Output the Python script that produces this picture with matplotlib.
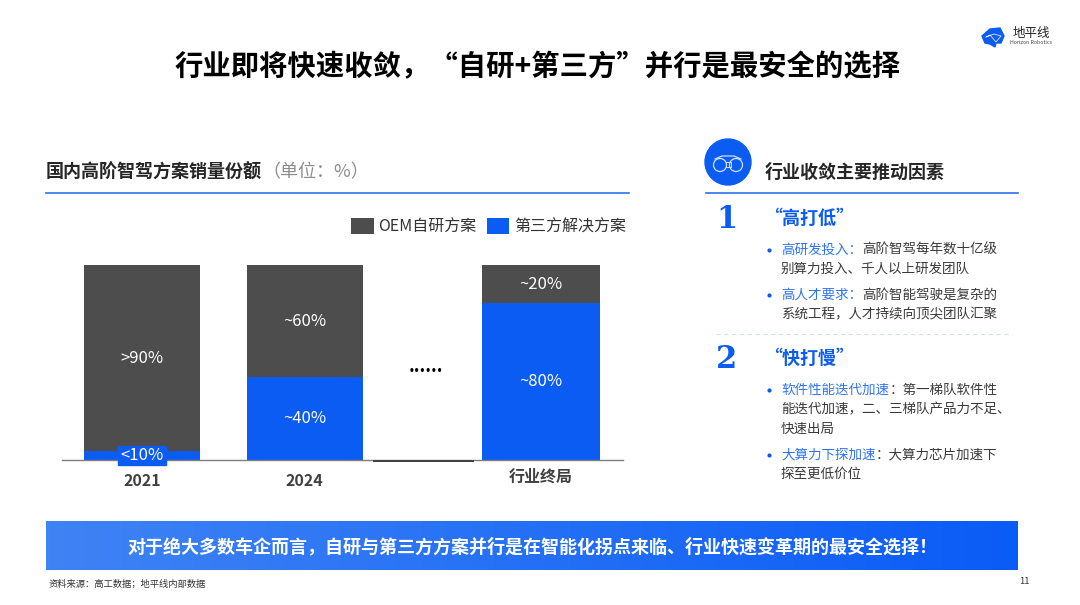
import numpy as np
import matplotlib
matplotlib.use("Agg")
import matplotlib.pyplot as plt
from matplotlib.patches import Circle, Polygon, Rectangle

plt.rcParams['font.family'] = ['Noto Sans CJK SC', 'DejaVu Sans']

# data
categories = ['2021', '2024', '行业终局']
third_party = [4.6, 42.5, 80.5]
oem = [95.4, 57.5, 19.5]
oem_labels = ['>90%', '~60%', '~20%']
third_labels = ['<10%', '~40%', '~80%']
series_names = ['OEM自研方案', '第三方解决方案']

GRAY = '#4d4d4d'
BLUE = '#0a5cf2'
TEXT = '#262626'

W, H = 1080, 605
fig = plt.figure(figsize=(W / 100, H / 100), dpi=100, facecolor='white')

# overlay in pixel coordinates for the slide furniture
bg = fig.add_axes([0, 0, 1, 1])
bg.set_xlim(0, W)
bg.set_ylim(H, 0)
bg.axis('off')
bg.set_zorder(2)

# chart area
left, right, top, bottom = 62, 623, 265, 460
ax = fig.add_axes([left / W, 1 - bottom / H, (right - left) / W, (bottom - top) / H])
ax.patch.set_alpha(0)
x_pos = [142, 304.5, 541]
widths = [116, 116, 118]
bars1 = ax.bar(x_pos, third_party, width=widths, color=BLUE, label=series_names[1])
bars2 = ax.bar(x_pos, oem, width=widths, bottom=third_party, color=GRAY, label=series_names[0])
ax.set_xlim(left, right)
ax.set_ylim(0, 100)
ax.set_yticks([])
ax.set_xticks(x_pos, categories, fontsize=11.5, fontweight='bold', color='#404040')
ax.tick_params(axis='x', length=0, pad=9)
ax.xaxis.get_major_ticks()[2].set_pad(6.5)
for s in ['top', 'left', 'right']:
    ax.spines[s].set_visible(False)
ax.spines['bottom'].set_color('#7f7f7f')
ax.spines['bottom'].set_linewidth(1)


def bar_label(x, y, s):
    ax.annotate(s, (x, y), xytext=(0, 0), textcoords='offset points', color='white',
                fontsize=12, ha='center', va='center')


for i, x in enumerate(x_pos):
    bar_label(x, third_party[i] + oem[i] / 2, oem_labels[i])
    if i == 0:
        # small segment, label sits in its own blue box
        bg.add_patch(Rectangle((118, 446), 48, 19, color=BLUE, zorder=5))
        bg.text(142, 455.5, third_labels[i], color='white', fontsize=12, ha='center', va='center', zorder=6)
    else:
        bar_label(x, third_party[i] / 2, third_labels[i])
ax.legend([bars2, bars1], series_names, ncols=2, loc='lower right', frameon=False,
          bbox_to_anchor=(1.02, 1.11), fontsize=11.5, handlelength=1.4, handleheight=1.15,
          handletextpad=0.3, columnspacing=0.65, borderpad=0, labelcolor='#333333')

# break between 2024 and end state
bg.text(425.5, 367, '......', fontsize=13, fontweight='bold', color='black', ha='center', va='center')
bg.plot([374, 473], [461, 461], color='#404040', lw=1.4)

# title and logo
bg.text(538, 67.5, '行业即将快速收敛，“自研+第三方”并行是最安全的选择', fontsize=20.4, fontweight='bold',
        color='black', ha='center', va='center')
bg.add_patch(Polygon([(982, 36), (990, 29), (1000, 28), (1004, 36), (1001, 43), (996, 43), (995, 47), (990, 44), (985, 43)],
                     closed=True, color=BLUE))
bg.plot([986, 994, 1001, 996, 990, 986], [37, 34, 36, 42, 35, 37], color='white', lw=0.5)
bg.text(1031, 33.5, '地平线', fontsize=9, ha='center', va='center', color='#222222')
bg.text(1031, 43, 'Horizon Robotics', fontsize=3.8, ha='center', va='center', color='#444444')

# left heading
bg.text(46, 172, '国内高阶智驾方案销量份额', fontsize=13, fontweight='bold', color=TEXT, va='center')
bg.text(262, 172, '（单位：%）', fontsize=13, color='#8c8c8c', va='center')
bg.plot([46, 629], [193, 193], color='#2f6fed', lw=1.2)

# right heading with binocular icon
bg.add_patch(Circle((728, 162), 23, color=BLUE))
for cx in (720, 736):
    bg.add_patch(Circle((cx, 165), 6.5, fill=False, ec='#cfe0ff', lw=0.9))
bg.plot([715, 722, 734, 741], [159, 156, 156, 159], color='#cfe0ff', lw=0.9)
bg.add_patch(Rectangle((725.5, 162), 5, 5, fill=False, ec='#cfe0ff', lw=0.7))
bg.text(765, 172, '行业收敛主要推动因素', fontsize=13, fontweight='bold', color=TEXT, va='center')
bg.plot([706, 1018], [193, 193], color='#2f6fed', lw=1.2)

BULLET_BLUE = '#2f74ee'
BODY = '#3a3a3a'
CH = 13.55


def bullet(y, head, rest, more):
    bg.plot([769], [y], marker='o', ms=2, color=BLUE)
    bg.text(781, y, head, fontsize=9.75, color=BULLET_BLUE, va='center')
    bg.text(781 + CH * len(head), y, rest, fontsize=9.75, color=BODY, va='center')
    for k, line in enumerate(more):
        bg.text(781, y + 19.6 * (k + 1), line, fontsize=9.75, color=BODY, va='center')


for y, num, head in [(217, '1', '“高打低”'), (357, '2', '“快打慢”')]:
    bg.text(716, y + 2, num, family='DejaVu Serif', fontsize=22, fontweight='bold', color=BLUE, va='center')
    bg.text(764, y + 1, head, fontsize=13, fontweight='bold', color=BLUE, va='center')

bullet(249.5, '高研发投入：', '高阶智驾每年数十亿级', ['别算力投入、千人以上研发团队'])
bullet(295, '高人才要求：', '高阶智能驾驶是复杂的', ['系统工程，人才持续向顶尖团队汇聚'])
bg.plot([716, 1012], [334, 334], color='#cfe0fa', lw=0.8, ls=(0, (4, 3)))
bullet(389.5, '软件性能迭代加速', '：第一梯队软件性', ['能迭代加速，二、三梯队产品力不足、', '快速出局'])
bullet(454.5, '大算力下探加速', '：大算力芯片加速下', ['探至更低价位'])

# banner with horizontal gradient
grad = np.linspace(0, 1, 256).reshape(1, -1)
cmap = matplotlib.colors.LinearSegmentedColormap.from_list('banner', ['#3f83f4', '#0a5cf7'])
bg.imshow(grad, extent=(46, 1018, 570, 521), cmap=cmap, aspect='auto', zorder=1)
bg.set_xlim(0, W)
bg.set_ylim(H, 0)
bg.text(532, 546.5, '对于绝大多数车企而言，自研与第三方方案并行是在智能化拐点来临、行业快速变革期的最安全选择！',
        fontsize=13, fontweight='bold', color='white', ha='center', va='center', zorder=2)

# footer
bg.text(49, 584, '资料来源：高工数据；地平线内部数据', fontsize=6.7, color='#333333', va='center')
bg.text(1024, 582, '11', fontsize=6.7, color='#333333', ha='center', va='center')

fig.savefig('out.png', dpi=100)
